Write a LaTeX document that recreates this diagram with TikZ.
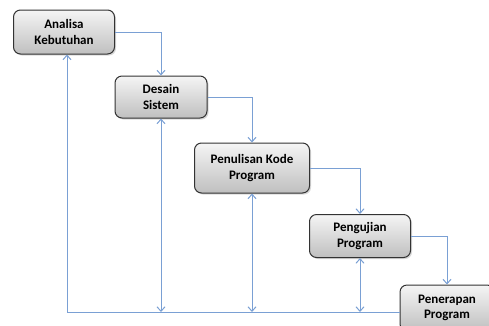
\documentclass[tikz,border=0pt]{standalone}
\usepackage{fontspec}
\setmainfont{Carlito}
\usetikzlibrary{arrows.meta,shadows}

\definecolor{flowblue}{RGB}{122,160,212}

\tikzset{
  stage/.style={draw=black!80, line width=1pt, rounded corners=7pt,
    top color=gray!8, bottom color=gray!50, align=center,
    font=\fontsize{13}{15.5}\selectfont\bfseries, inner sep=2pt,
    drop shadow={opacity=0.3, shadow xshift=1.5pt, shadow yshift=-1.5pt}},
  flow/.style={draw=flowblue, line width=1pt, -{Straight Barb[length=4.5pt,width=8pt]}},
  back/.style={draw=flowblue, line width=1pt, {Straight Barb[length=4.5pt,width=8pt]}-{Straight Barb[length=4.5pt,width=8pt]}}
}

\begin{document}
\begin{tikzpicture}[x=1pt,y=-1pt]

\clip (0,0) rectangle (489,325);
\fill[white] (0,0) rectangle (489,325);

\node[stage, minimum width=101pt, minimum height=44pt] (ak) at (64,32) {Analisa\\Kebutuhan};
\node[stage, minimum width=92pt, minimum height=42pt] (ds) at (161,97) {Desain\\Sistem};
\node[stage, minimum width=115pt, minimum height=50pt] (pk) at (252,168) {Penulisan Kode\\Program};
\node[stage, minimum width=101pt, minimum height=43pt] (pg) at (360,236) {Pengujian\\Program};
\node[stage, minimum width=94pt, minimum height=46pt] (pp) at (447,308) {Penerapan\\Program};

\coordinate (corner) at (67,312);

\draw[flow] (ak.east) -| (ds.north);
\draw[flow] (ds.east) -| (pk.north);
\draw[flow] (pk.east) -| (pg.north);
\draw[flow] (pg.east) -| (pp.north);

\draw[flow] (pp.west |- corner) -- (corner) -- (corner |- ak.south);
\draw[back] (ds.south) -- (ds.south |- corner);
\draw[back] (pk.south) -- (pk.south |- corner);
\draw[back] (pg.south) -- (pg.south |- corner);

\end{tikzpicture}
\end{document}
